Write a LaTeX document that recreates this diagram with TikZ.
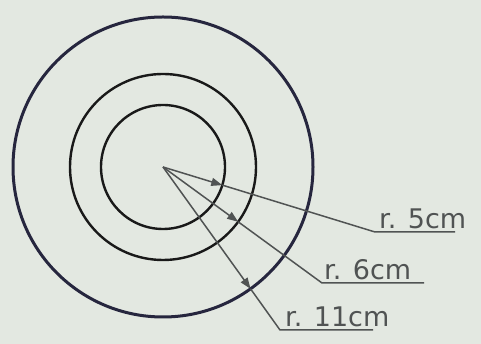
\documentclass[tikz,border=0pt]{standalone}
\usepackage{fontspec}
\setmainfont{DejaVu Sans}
\usetikzlibrary{arrows.meta,calc}
\definecolor{paper}{RGB}{227,232,225}
\definecolor{ink}{RGB}{38,38,62}
\definecolor{pencil}{RGB}{80,83,83}
\tikzset{
  ring/.style={draw=black!90, line width=2.4pt},
  ray/.style={draw=pencil, line width=1.5pt, -{Triangle[length=11pt,width=8pt]}},
  leader/.style={draw=pencil, line width=1.5pt},
  rlabel/.style={text=pencil, font=\fontsize{27}{27}\selectfont, inner sep=1pt, anchor=south west}
}
\begin{document}
\begin{tikzpicture}[x=1pt,y=1pt]
\fill[paper] (0,0) rectangle (481,344);
\useasboundingbox (0,0) rectangle (481,344);
\coordinate (o) at (163,177);
% circles
\draw[ring] (o) circle (62);
\draw[ring] (o) circle (93);
\draw[draw=ink, line width=3pt] (o) circle (150);
% points on the circles
\coordinate (a5) at ($(o)+(-17:62)$);
\coordinate (a6) at ($(o)+(-36.1:93)$);
\coordinate (a11) at ($(o)+(-54.3:150)$);
% bends and ends of the leaders
\coordinate (k5) at (375,112);
\coordinate (e5) at (455,112);
\coordinate (k6) at (322,61);
\coordinate (e6) at (424,61);
\coordinate (k11) at (280,14);
\coordinate (e11) at (373,14);
% radii
\draw[ray] (o) -- (a5);
\draw[leader] (a5) -- (k5) -- (e5);
\draw[ray] (o) -- (a6);
\draw[leader] (a6) -- (k6) -- (e6);
\draw[ray] (o) -- (a11);
\draw[leader] (a11) -- (k11) -- (e11);
% labels
\node[rlabel] (l5) at ([xshift=3pt,yshift=2pt]k5) {r. 5cm};
\node[rlabel] (l6) at ([xshift=1pt,yshift=2pt]k6) {r. 6cm};
\node[rlabel] (l11) at ([xshift=4pt,yshift=2pt]k11) {r. 11cm};
\end{tikzpicture}
\end{document}
